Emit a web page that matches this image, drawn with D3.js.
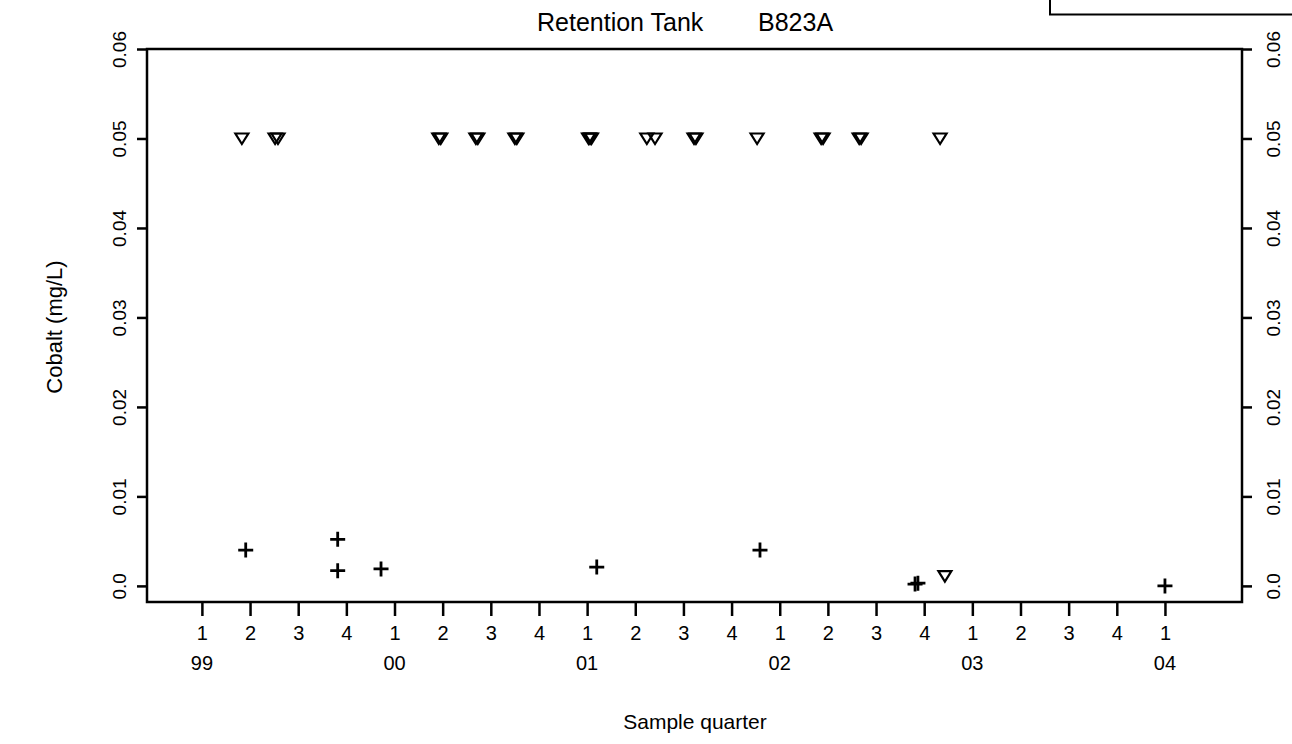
<!DOCTYPE html>
<html>
<head>
<meta charset="utf-8">
<script src="https://cdn.jsdelivr.net/npm/d3@7"></script>
<style>
  body { margin: 0; background: #fff; }
  svg { display: block; }
  text { font-family: "Liberation Sans", Arial, Helvetica, sans-serif; fill: #000; }
</style>
</head>
<body>
<svg id="chart" width="1292" height="744"></svg>
<script>
// sample time is counted in quarters from 1999 Q1 (0 = 99 Q1, 4 = 00 Q1 ...)
let nd_time = [0.83, 1.52, 1.58, 4.92, 4.96, 5.69, 5.73, 6.50, 6.54, 8.03, 8.06, 8.09,
               9.24, 9.41, 10.22, 10.26, 11.53, 12.86, 12.90, 13.65, 13.69, 15.33, 15.43];
let nd_value = [0.05, 0.05, 0.05, 0.05, 0.05, 0.05, 0.05, 0.05, 0.05, 0.05, 0.05, 0.05,
                0.05, 0.05, 0.05, 0.05, 0.05, 0.05, 0.05, 0.05, 0.05, 0.05, 0.0011];

let det_time = [0.91, 2.82, 2.82, 3.72, 8.20, 11.59, 14.81, 14.87, 20.0];
let det_value = [0.0040, 0.0052, 0.0017, 0.0019, 0.0021, 0.0040, 0.0002, 0.0003, 0.0];

let quarter_ticks = d3.range(0, 21);
let quarter_labels = ["1","2","3","4","1","2","3","4","1","2","3","4","1","2","3","4","1","2","3","4","1"];
let year_ticks = [0, 4, 8, 12, 16, 20];
let year_labels = ["99", "00", "01", "02", "03", "04"];
let y_ticks = [0, 0.01, 0.02, 0.03, 0.04, 0.05, 0.06];
let y_labels = ["0.0", "0.01", "0.02", "0.03", "0.04", "0.05", "0.06"];

let svg = d3.select("#chart");
let plot_left = 147, plot_right = 1242, plot_top = 49, plot_bottom = 602;

let x = d3.scaleLinear().domain([-1.14, 21.6]).range([plot_left, plot_right]);
let y = d3.scaleLinear().domain([-0.0018, 0.06]).range([plot_bottom, plot_top]);

// box in the top right corner
svg.append("path")
    .attr("d", "M1050,-5 L1050,14.5 L1300,14.5")
    .attr("fill", "none")
    .attr("stroke", "#000")
    .attr("stroke-width", 2);

// title
let title = svg.append("text")
    .attr("x", 537)
    .attr("y", 31)
    .attr("font-size", 25);
title.append("tspan").text("Retention Tank");
title.append("tspan").attr("x", 758).text("B823A");

// frame
svg.append("rect")
    .attr("x", plot_left)
    .attr("y", plot_top)
    .attr("width", plot_right - plot_left)
    .attr("height", plot_bottom - plot_top)
    .attr("fill", "none")
    .attr("stroke", "#000")
    .attr("stroke-width", 2.5);

// left axis
let yl = svg.append("g")
    .attr("transform", `translate(${plot_left},0)`)
    .call(d3.axisLeft(y).tickValues(y_ticks).tickSize(10).tickFormat((d, i) => y_labels[i]));
yl.select(".domain").remove();
yl.selectAll("line").attr("stroke-width", 2.5);
yl.selectAll("text")
    .attr("transform", "rotate(-90)")
    .attr("x", 0)
    .attr("y", -21)
    .attr("dy", 0)
    .attr("text-anchor", "middle")
    .attr("font-size", 19)
    .attr("font-family", null);

// right axis
let yr = svg.append("g")
    .attr("transform", `translate(${plot_right},0)`)
    .call(d3.axisRight(y).tickValues(y_ticks).tickSize(10).tickFormat((d, i) => y_labels[i]));
yr.select(".domain").remove();
yr.selectAll("line").attr("stroke-width", 2.5);
yr.selectAll("text")
    .attr("transform", "rotate(-90)")
    .attr("x", 0)
    .attr("y", 38)
    .attr("dy", 0)
    .attr("text-anchor", "middle")
    .attr("font-size", 19)
    .attr("font-family", null);

// bottom axis: quarters
let xa = svg.append("g")
    .attr("transform", `translate(0,${plot_bottom})`)
    .call(d3.axisBottom(x).tickValues(quarter_ticks).tickSize(14).tickPadding(10)
        .tickFormat((d, i) => quarter_labels[i]));
xa.select(".domain").remove();
xa.selectAll("line").attr("stroke-width", 2.5);
xa.selectAll("text")
    .attr("font-size", 20)
    .attr("font-family", null);

// year labels
svg.append("g").selectAll("text")
    .data(year_ticks)
    .enter().append("text")
        .attr("x", d => x(d))
        .attr("y", 670)
        .attr("text-anchor", "middle")
        .attr("font-size", 20)
        .text((d, i) => year_labels[i]);

// axis titles
svg.append("text")
    .attr("transform", "translate(62,327) rotate(-90)")
    .attr("text-anchor", "middle")
    .attr("font-size", 22)
    .text("Cobalt (mg/L)");

svg.append("text")
    .attr("x", 695)
    .attr("y", 729)
    .attr("text-anchor", "middle")
    .attr("font-size", 21)
    .text("Sample quarter");

// non detects: open down triangles
svg.append("g").selectAll("path")
    .data(nd_time)
    .enter().append("path")
        .attr("d", "M-6.5,-5L6.5,-5L0,5.5Z")
        .attr("transform", (d, i) => `translate(${x(d)},${y(nd_value[i])})`)
        .attr("fill", "none")
        .attr("stroke", "#000")
        .attr("stroke-width", 2.2);

// detects: plus signs
svg.append("g").selectAll("path")
    .data(det_time)
    .enter().append("path")
        .attr("d", "M-7.5,0L7.5,0M0,-7.5L0,7.5")
        .attr("transform", (d, i) => `translate(${x(d)},${y(det_value[i])})`)
        .attr("fill", "none")
        .attr("stroke", "#000")
        .attr("stroke-width", 2.8);
</script>
</body>
</html>
